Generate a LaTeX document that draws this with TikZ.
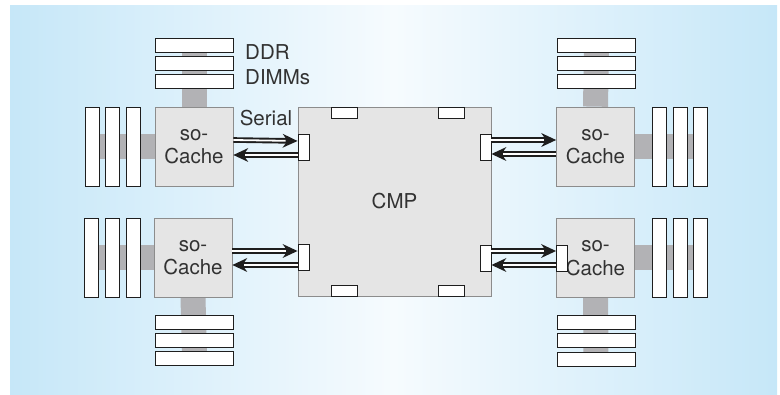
\documentclass[tikz,border=0pt]{standalone}
\usepackage{fontspec}
\setmainfont{TeX Gyre Heros}
\usetikzlibrary{decorations.markings}
\pgfdeclarelayer{back}
\pgfdeclarelayer{mid}
\pgfsetlayers{back,mid,main}
\definecolor{panelblue}{RGB}{198,231,248}
\definecolor{panelmid}{RGB}{246,251,254}
\definecolor{busgray}{RGB}{178,178,181}
\definecolor{boxfill}{RGB}{229,229,229}
\definecolor{boxline}{RGB}{140,140,140}
\definecolor{inkdark}{RGB}{30,30,30}
\definecolor{textgray}{RGB}{50,50,50}
\begin{document}
\begin{tikzpicture}[x=1pt,y=-1pt,
  dimm/.style={draw=inkdark, fill=white, line width=0.9pt, inner sep=0pt},
  hdimm/.style={dimm, minimum width=78pt, minimum height=14pt},
  vdimm/.style={dimm, minimum width=14pt, minimum height=79pt},
  vport/.style={dimm, minimum width=11pt, minimum height=26pt},
  hport/.style={dimm, minimum width=26pt, minimum height=11pt},
  cachebox/.style={draw=boxline, fill=boxfill, line width=0.7pt, minimum width=78pt, minimum height=79pt, inner sep=0pt, align=center, font=\fontsize{20.5}{23.5}\selectfont, text=textgray},
  cmpbox/.style={draw=boxline, fill=boxfill, line width=0.7pt, minimum width=193pt, minimum height=189pt, inner sep=0pt, font=\fontsize{20.5}{23.5}\selectfont, text=textgray},
  lbl/.style={font=\fontsize{20.5}{23.5}\selectfont, text=textgray, inner sep=0pt},
  bus/.style={draw=busgray, line width=25pt},
  arr/.style={draw=inkdark, line width=5.6pt, shorten >=9pt,
    postaction={draw=white, line width=1.8pt, shorten >=12pt},
    postaction={decorate, decoration={markings, mark=at position 1 with
      {\fill[inkdark, shorten >=0pt] (0pt,0pt) -- (-15pt,7pt) -- (-10pt,0pt) -- (-15pt,-7pt) -- cycle;}}}}
]
\useasboundingbox (0,0) rectangle (780,395);
\begin{pgfonlayer}{back}
  \shade[left color=panelblue, right color=panelblue, middle color=panelmid] (10,6) rectangle (777,395);
\end{pgfonlayer}

% CMP
\node[cmpbox] (cmp) at (394.5,201.5) {CMP};
\node[vport] (pLT) at (303.5,147) {};
\node[vport] (pLB) at (303.5,257.5) {};
\node[vport] (pRT) at (485.5,147) {};
\node[vport] (pRB) at (485.5,258) {};
\node[hport] (pT1) at (344,112.5) {};
\node[hport] (pT2) at (451,112.5) {};
\node[hport] (pB1) at (344,290.5) {};
\node[hport] (pB2) at (451,290.5) {};

% top-left group
\node[cachebox] (cTL) at (194,146.5) {so-\\Cache};
\node[hdimm] (hTL1) at (194,45) {};
\node[hdimm] (hTL2) at (194,63) {};
\node[hdimm] (hTL3) at (194,81) {};
\node[vdimm] (vTL1) at (92,146.5) {};
\node[vdimm] (vTL2) at (112,146.5) {};
\node[vdimm] (vTL3) at (133,146.5) {};

% top-right group
\node[cachebox] (cTR) at (595.5,146.5) {so-\\Cache};
\node[hdimm] (hTR1) at (596.5,45) {};
\node[hdimm] (hTR2) at (596.5,63) {};
\node[hdimm] (hTR3) at (596.5,81) {};
\node[vdimm] (vTR1) at (659.5,146.5) {};
\node[vdimm] (vTR2) at (680.5,146.5) {};
\node[vdimm] (vTR3) at (700.5,146.5) {};

% bottom-left group
\node[cachebox] (cBL) at (193,257.5) {so-\\Cache};
\node[hdimm] (hBL1) at (194.5,322) {};
\node[hdimm] (hBL2) at (194.5,340) {};
\node[hdimm] (hBL3) at (194.5,358.5) {};
\node[vdimm] (vBL1) at (91.5,257.5) {};
\node[vdimm] (vBL2) at (112.5,257.5) {};
\node[vdimm] (vBL3) at (133,257.5) {};

% bottom-right group
\node[cachebox] (cBR) at (595.5,258) {so-\\Cache};
\node[vport] (pC) at (562,258.5) {};
\node[hdimm] (hBR1) at (596,322.5) {};
\node[hdimm] (hBR2) at (596,340.5) {};
\node[hdimm] (hBR3) at (596,359) {};
\node[vdimm] (vBR1) at (659.5,258) {};
\node[vdimm] (vBR2) at (680.5,258) {};
\node[vdimm] (vBR3) at (700.5,258) {};

% buses
\begin{pgfonlayer}{mid}
  \draw[bus] (hTL1.center) -- (cTL.north);
  \draw[bus] (vTL1.center) -- (cTL.west);
  \draw[bus] (hTR1.center) -- (cTR.north);
  \draw[bus] (vTR3.center) -- (cTR.east);
  \draw[bus] (hBL3.center) -- (cBL.south);
  \draw[bus] (vBL1.center) -- (cBL.west);
  \draw[bus] (hBR3.center) -- (cBR.south);
  \draw[bus] (vBR3.center) -- (cBR.east);
\end{pgfonlayer}

% labels
\node[lbl] (serial) at (266,118) {Serial};
\node[lbl, anchor=west] (ddr) at (245,52) {DDR};
\node[lbl, anchor=west] (dimms) at (245,77) {DIMMs};

% serial links
\draw[arr] ([yshift=6.5pt]cTL.east) -- ([yshift=6pt]pLT.west);
\draw[arr] ([yshift=-8pt]pLT.west) -- ([yshift=-8.5pt]cTL.east);
\draw[arr] ([yshift=7pt]pRT.east) -- ([yshift=6.5pt]cTR.west);
\draw[arr] ([yshift=-7.5pt]cTR.west) -- ([yshift=-7pt]pRT.east);
\draw[arr] ([yshift=6.5pt]cBL.east) -- ([yshift=6.5pt]pLB.west);
\draw[arr] ([yshift=-7.5pt]pLB.west) -- ([yshift=-7.5pt]cBL.east);
\draw[arr] ([yshift=7pt]pRB.east) -- ([yshift=7.5pt]pC.west);
\draw[arr] ([yshift=-6.5pt]pC.west) -- ([yshift=-7pt]pRB.east);
\end{tikzpicture}
\end{document}
